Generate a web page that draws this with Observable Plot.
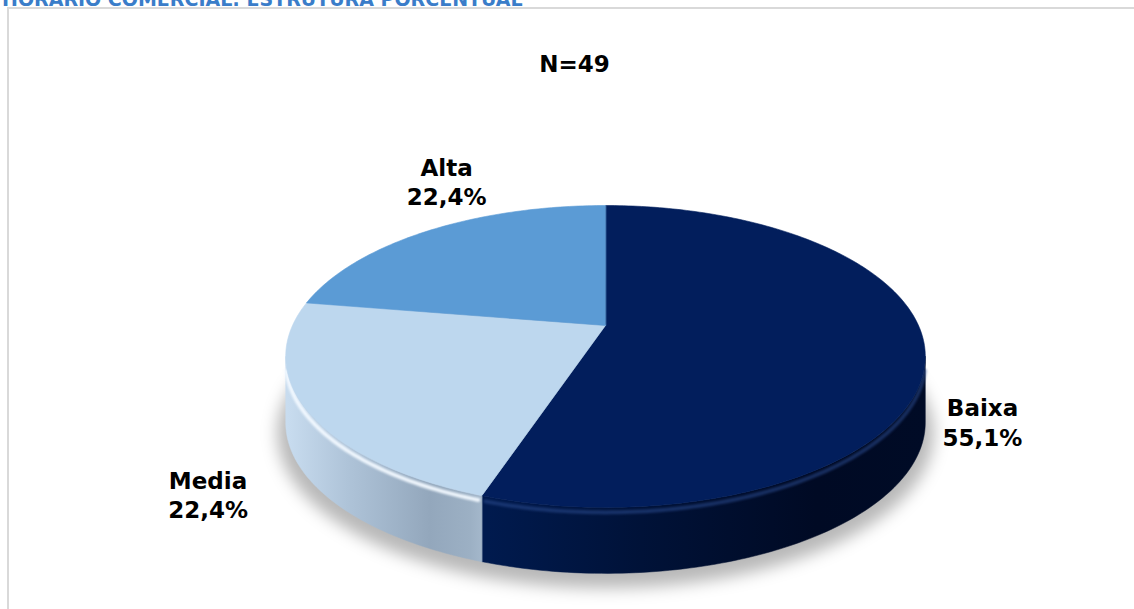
<!DOCTYPE html>
<html><head><meta charset="utf-8">
<script src="https://cdn.jsdelivr.net/npm/d3@7"></script>
<script src="https://cdn.jsdelivr.net/npm/@observablehq/plot@0.6"></script>
<style>
html,body{margin:0;padding:0;background:#fff;overflow:hidden}
#wrap{position:relative;width:1134px;height:609px;overflow:hidden}
#title{position:absolute;left:2px;top:-10px;font:bold 19px/19px "DejaVu Sans";color:#3a7dc9;white-space:nowrap;z-index:3}
#chart{position:absolute;left:0;top:0;z-index:1}
#frame{position:absolute;left:7px;top:7px;width:1140px;height:620px;border:2px solid #d9d9d9;box-sizing:border-box;z-index:2;pointer-events:none}
</style></head><body>
<div id="wrap"><div id="title">HORARIO COMERCIAL: ESTRUTURA PORCENTUAL</div><div id="chart"></div><div id="frame"></div></div>
<script>
// ---- data ----
const categories = ["Baixa", "Media", "Alta"];
const shares = [55.1, 22.4, 22.4];
const totalN = 49;

// ---- styling / layout ----
const topColors = ["#021e5c", "#bdd7ee", "#5b9bd5"];
const sideFills = ["url(#sideBaixa)", "url(#sideMedia)", "url(#sideAlta)"];
const bevelColors = ["#2a4a8e", "#f2f9ff", "#9cc3ea"];
const bevelOpacity = [0.55, 0.95, 0.8];
const labelNudge = [[-9, 1], [-29, 0], [46, -33]];
const W = 1134, H = 609;
const cx = 605, cy = 325, A = 313, B = 144.6, k = 0.205, depth = 66;

function proj(t, r = 1) {
  const u = r * Math.sin(t), w = r * Math.cos(t), d = 1 + k * w;
  return [cx + A * u / d, cy - B * w / d];
}
function arc(a0, a1, r = 1, dy = 0) {
  const n = Math.max(2, Math.ceil((a1 - a0) / (2 * Math.PI) * 360));
  return d3.range(n + 1).map(j => {
    const t = a0 + (a1 - a0) * j / n;
    const [x, y] = proj(t, r);
    return {x, y: y + dy};
  });
}

const total = d3.sum(shares);
let acc = 0;
const slices = categories.map((c, i) => {
  const a0 = acc / total * 2 * Math.PI;
  acc += shares[i];
  const a1 = acc / total * 2 * Math.PI;
  return {c, i, a0, a1, mid: (a0 + a1) / 2};
});
const thR = Math.acos(-k), thL = 2 * Math.PI - thR;

const marks = [];
// shadow
marks.push(Plot.line(arc(0, 2 * Math.PI, 1.025, depth + 9), {
  x: "x", y: "y", fill: "#000", fillOpacity: 0.28, stroke: "none", curve: "linear-closed", imageFilter: "blur(8px)"
}));
// sides
slices.forEach(s => {
  const s0 = Math.max(s.a0, thR), s1 = Math.min(s.a1, thL);
  if (s1 > s0) {
    const pts = [...arc(s0, s1), ...arc(s0, s1, 1, depth).reverse()];
    marks.push(Plot.line(pts, {x: "x", y: "y", fill: sideFills[s.i], stroke: sideFills[s.i], strokeWidth: 0.5, curve: "linear-closed"}));
  }
});
// bevel highlights
slices.forEach(s => {
  const s0 = Math.max(s.a0, thR + 0.05), s1 = Math.min(s.a1, thL - 0.05);
  if (s1 > s0) {
    marks.push(Plot.line(arc(s0 + 0.01, s1 - 0.01, 1, 5), {
      x: "x", y: "y", stroke: bevelColors[s.i], strokeWidth: 4, strokeOpacity: bevelOpacity[s.i], imageFilter: "blur(1.2px)"
    }));
  }
});
// top faces
slices.forEach(s => {
  const pts = [{x: cx, y: cy}, ...arc(s.a0, s.a1)];
  marks.push(Plot.line(pts, {x: "x", y: "y", fill: topColors[s.i], stroke: topColors[s.i], strokeWidth: 0.6, curve: "linear-closed"}));
});
// labels
const fmt = v => v.toFixed(1).replace(".", ",") + "%";
const labels = slices.map(s => {
  const [x, y] = proj(s.mid, 1.2);
  const front = Math.cos(s.mid) < 0 ? depth : 0;
  return {x: x + labelNudge[s.i][0], y: y + front + labelNudge[s.i][1], text: `${s.c}\n${fmt(shares[s.i])}`};
});
marks.push(Plot.text(labels, {
  x: "x", y: "y", text: "text", fontSize: 23, fontWeight: "bold", fontFamily: "DejaVu Sans",
  lineHeight: 1.27, textAnchor: "middle", fill: "#000"
}));
marks.push(Plot.text([`N=${totalN}`], {
  text: d => d, frameAnchor: "top", dx: 7, dy: 55, fontSize: 23, fontWeight: "bold", fontFamily: "DejaVu Sans", fill: "#000"
}));

const chart = Plot.plot({
  width: W, height: H, margin: 0,
  x: {domain: [0, W], range: [0, W], axis: null},
  y: {domain: [0, H], range: [0, H], axis: null},
  style: {background: "transparent", overflow: "visible"},
  marks
});

const svg = d3.select(chart);
const defs = svg.insert("defs", ":first-child");
function grad(id, x1, x2, stops) {
  const g = defs.append("linearGradient").attr("id", id).attr("gradientUnits", "userSpaceOnUse")
    .attr("x1", x1).attr("x2", x2).attr("y1", 0).attr("y2", 0);
  stops.forEach(([o, c]) => g.append("stop").attr("offset", o).attr("stop-color", c));
}
grad("sideMedia", 287, 490, [[0, "#c8dcef"], [0.3, "#aec3d8"], [0.7, "#93a7bc"], [0.9, "#9cb0c4"], [1, "#aabdd0"]]);
grad("sideBaixa", 487, 925, [[0, "#001a4e"], [0.35, "#001238"], [0.75, "#000a24"], [1, "#000b26"]]);
grad("sideAlta", 287, 925, [[0, "#4a80b4"], [1, "#3a6a9a"]]);

document.getElementById("chart").appendChild(chart);
</script>
</body></html>
